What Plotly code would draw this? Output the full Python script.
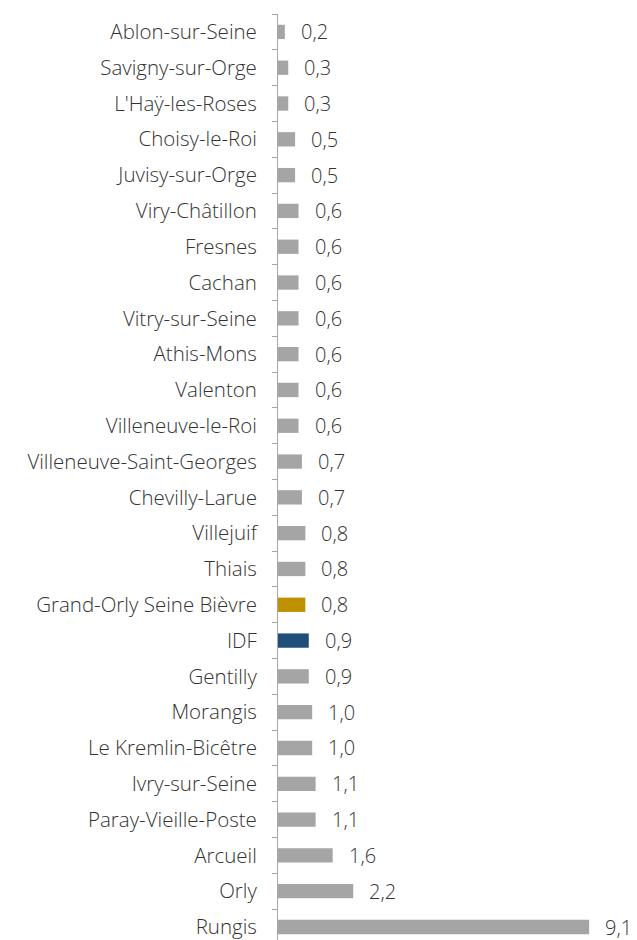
import plotly.graph_objects as go

# Communes, top to bottom as displayed
communes = [
    "Ablon-sur-Seine", "Savigny-sur-Orge", "L'Haÿ-les-Roses", "Choisy-le-Roi",
    "Juvisy-sur-Orge", "Viry-Châtillon", "Fresnes", "Cachan", "Vitry-sur-Seine",
    "Athis-Mons", "Valenton", "Villeneuve-le-Roi", "Villeneuve-Saint-Georges",
    "Chevilly-Larue", "Villejuif", "Thiais", "Grand-Orly Seine Bièvre", "IDF",
    "Gentilly", "Morangis", "Le Kremlin-Bicêtre", "Ivry-sur-Seine",
    "Paray-Vieille-Poste", "Arcueil", "Orly", "Rungis",
]
valeurs = [
    0.2, 0.3, 0.3, 0.5, 0.5, 0.6, 0.6, 0.6, 0.6, 0.6, 0.6, 0.6, 0.7,
    0.7, 0.8, 0.8, 0.8, 0.9, 0.9, 1.0, 1.0, 1.1, 1.1, 1.6, 2.2, 9.1,
]

GRIS = "#A5A5A5"
couleurs_speciales = {"Grand-Orly Seine Bièvre": "#BF9000", "IDF": "#1F4E79"}

# Plotly draws the first category at the bottom, so reverse the order
cats = communes[::-1]
vals = valeurs[::-1]
cols = [couleurs_speciales.get(c, GRIS) for c in cats]

FONT = "Open Sans"
WEIGHT = 300
SIZE = 20.5
VALUE_SIZE = 20
TEXT_COLOR = "#333333"

fig = go.Figure(
    go.Bar(
        x=vals,
        y=cats,
        orientation="h",
        marker=dict(color=cols, line=dict(width=0)),
        width=0.4,
        hoverinfo="skip",
    )
)

# Value labels to the right of each bar
for c, v in zip(cats, vals):
    fig.add_annotation(
        x=v, y=c, text=f"{v:.1f}".replace(".", ","),
        xanchor="left", yanchor="middle", xshift=14, showarrow=False,
        font=dict(family=FONT, size=VALUE_SIZE, color=TEXT_COLOR, weight=WEIGHT),
    )

fig.update_layout(
    width=637, height=940,
    margin=dict(l=278, r=0, t=14, b=0),
    paper_bgcolor="white", plot_bgcolor="white",
    showlegend=False,
    font=dict(family=FONT, size=SIZE, color=TEXT_COLOR, weight=WEIGHT),
)
fig.update_xaxes(
    range=[0, 10.5], visible=False, showgrid=False, zeroline=False,
)
fig.update_yaxes(
    type="category",
    range=[-0.363, 25.5],
    showline=True, linecolor="#A6A6A6", linewidth=1,
    ticks="outside", tickson="boundaries", ticklen=5, tickcolor="#A6A6A6",
    showgrid=False, zeroline=False,
    ticklabelstandoff=16,
    tickfont=dict(family=FONT, size=SIZE, color=TEXT_COLOR, weight=WEIGHT),
)

fig.write_html("out.html")
